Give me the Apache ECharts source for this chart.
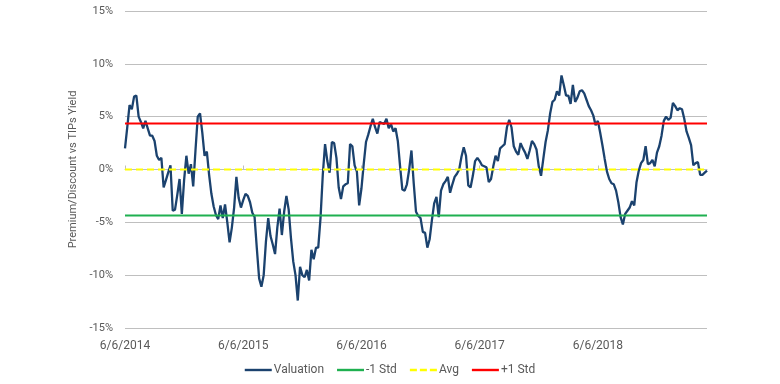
<!DOCTYPE html>
<html>
<head>
<meta charset="utf-8">
<script src="https://cdn.jsdelivr.net/npm/echarts@6/dist/echarts.min.js"></script>
<style>
html,body{margin:0;padding:0;background:#fff;}
#chart{width:780px;height:384px;}
</style>
</head>
<body>
<div id="chart"></div>
<script>
// Weekly observations starting 6/6/2014
const startDate = "2014-06-06";
const tickLabels = ["6/6/2014", "6/6/2015", "6/6/2016", "6/6/2017", "6/6/2018"];
const yTicks = [-15, -10, -5, 0, 5, 10, 15];

const valuation = [
  2.0, 4.0, 6.1, 5.7, 6.9, 7.0, 5.0, 4.5, 3.9, 4.6,
  3.9, 3.2, 3.2, 2.7, 1.3, 0.9, 1.1, -1.7, -1.0, -0.3,
  0.4, -3.9, -3.8, -2.4, -0.9, -4.2, -1.0, 1.3, -0.4, 0.5,
  -1.6, 1.8, 5.0, 5.3, 3.5, 1.3, 1.7, -0.5, -2.3, -3.5,
  -4.3, -4.7, -3.4, -4.6, -3.3, -5.0, -6.9, -5.5, -3.6, -0.7,
  -2.7, -3.6, -2.9, -2.3, -2.5, -3.1, -4.1, -4.5, -7.5, -10.3,
  -11.1, -10.0, -6.8, -4.6, -6.3, -7.1, -8.0, -5.5, -3.7, -6.2,
  -4.0, -2.5, -3.8, -6.5, -8.7, -10.0, -12.4, -9.2, -10.0, -10.2,
  -9.5, -10.5, -7.6, -8.5, -7.4, -7.4, -4.6, -0.5, 2.4, 0.8,
  -0.3, 2.6, 2.5, 1.1, -1.7, -2.8, -1.6, -1.4, -1.3, 2.4,
  2.2, 0.4, -0.2, -3.4, -1.8, 0.5, 2.6, 3.3, 4.1, 4.8,
  4.0, 3.4, 4.5, 4.4, 4.3, 4.8, 3.9, 4.3, 3.6, 3.9,
  2.7, 0.3, -1.9, -2.0, -1.4, 0.0, 1.8, -1.3, -4.0, -4.4,
  -4.6, -5.9, -6.0, -7.4, -6.6, -4.8, -3.2, -2.6, -4.5, -2.0,
  -1.4, -1.1, -0.7, -2.2, -1.4, -0.7, -0.4, 0.0, 1.2, 2.1,
  1.3, -1.5, -1.7, -0.6, 0.8, 1.1, 0.8, 0.4, 0.3, 0.2,
  -1.2, -0.9, 0.3, 1.3, 0.8, 2.0, 2.2, 2.4, 4.0, 4.7,
  4.0, 2.2, 1.7, 1.4, 2.5, 2.0, 1.6, 1.0, 1.8, 2.7,
  2.4, 1.9, 0.3, -0.6, 1.0, 2.6, 3.7, 5.3, 6.4, 6.6,
  7.4, 7.0, 8.9, 8.0, 7.0, 7.0, 6.2, 8.0, 6.4, 6.8,
  7.4, 7.5, 7.2, 6.6, 6.0, 5.6, 5.1, 4.2, 4.6, 3.5,
  2.3, 1.0, -0.2, -0.9, -1.3, -1.4, -2.0, -3.1, -4.5, -5.2,
  -4.2, -3.9, -3.6, -3.0, -3.4, -1.2, -0.1, 0.6, 0.9, 2.2,
  0.5, 0.6, 0.9, 0.3, 1.6, 2.2, 3.2, 4.6, 5.0, 4.7,
  4.9, 6.3, 6.0, 5.6, 5.8, 5.7, 4.8, 3.6, 3.0, 2.3,
  0.4, 0.6, 0.7, -0.5, -0.5, -0.3, -0.1
];

const minusStdValue = -4.36;
const avgValue = 0.0;
const plusStdValue = 4.36;

// categories: weekly dates
const categories = valuation.map(function (_, i) {
  const d = new Date(startDate + "T00:00:00Z");
  d.setUTCDate(d.getUTCDate() + 7 * i);
  return (d.getUTCMonth() + 1) + "/" + d.getUTCDate() + "/" + d.getUTCFullYear();
});
const minusStd = valuation.map(function () { return minusStdValue; });
const avg = valuation.map(function () { return avgValue; });
const plusStd = valuation.map(function () { return plusStdValue; });

const FONT = "Roboto";
const TXT = "#595959";
const labelEvery = function (idx) { return idx % 52 === 0; };
const solidIcon = "path://M0,0h27v2.4h-27z";
const dashIcon = "path://M0,0h7v2.4h-7z M10,0h7v2.4h-7z M20,0h7v2.4h-7z";

const chart = echarts.init(document.getElementById("chart"), null, { renderer: "canvas" });
chart.setOption({
  animation: false,
  backgroundColor: "#ffffff",
  textStyle: { fontFamily: FONT },
  grid: { left: 125, right: 73, top: 11, bottom: 56, containLabel: false },
  legend: {
    bottom: 3,
    left: "center",
    itemWidth: 27,
    itemHeight: 2.4,
    itemGap: 13,
    textStyle: { color: TXT, fontSize: 12, fontFamily: FONT, padding: [0, 0, 0, -3] },
    data: [
      { name: "Valuation", icon: solidIcon },
      { name: "-1 Std", icon: solidIcon },
      { name: "Avg", icon: dashIcon },
      { name: "+1 Std", icon: solidIcon }
    ]
  },
  xAxis: [
    {
      type: "category",
      data: categories,
      boundaryGap: false,
      axisLine: { show: false, onZero: false },
      axisTick: { show: false },
      splitLine: { show: false },
      axisLabel: {
        interval: labelEvery,
        formatter: function (v, idx) { return tickLabels[Math.round(idx / 52)]; },
        color: TXT,
        fontSize: 12,
        fontFamily: FONT,
        margin: 12
      }
    },
    {
      type: "category",
      data: categories,
      boundaryGap: false,
      axisLine: { show: true, onZero: true, onZeroAxisIndex: 0, lineStyle: { color: "#BFBFBF", width: 1 } },
      axisTick: { show: true, interval: labelEvery, length: 4, lineStyle: { color: "#BFBFBF" } },
      axisLabel: { show: false },
      splitLine: { show: false }
    }
  ],
  yAxis: {
    type: "value",
    min: yTicks[0],
    max: yTicks[yTicks.length - 1],
    interval: 5,
    name: "Premium/Discount vs TIPs Yield",
    nameLocation: "middle",
    nameGap: 43,
    nameRotate: 90,
    nameTextStyle: { color: TXT, fontSize: 11, fontFamily: FONT },
    axisLine: { show: false },
    axisTick: { show: false },
    axisLabel: { formatter: "{value}%", color: TXT, fontSize: 11, fontFamily: FONT, margin: 12 },
    splitLine: { lineStyle: { color: "#BFBFBF", width: 1 } }
  },
  series: [
    {
      name: "Valuation",
      type: "line",
      data: valuation,
      xAxisIndex: 0,
      symbol: "none",
      lineStyle: { color: "#1B426E", width: 2.3 },
      itemStyle: { color: "#1B426E" },
      z: 2
    },
    {
      name: "-1 Std",
      type: "line",
      data: minusStd,
      xAxisIndex: 0,
      symbol: "none",
      lineStyle: { color: "#1FB050", width: 2 },
      itemStyle: { color: "#1FB050" },
      z: 3
    },
    {
      name: "Avg",
      type: "line",
      data: avg,
      xAxisIndex: 0,
      symbol: "none",
      lineStyle: { color: "#FFFF00", width: 2, type: [7, 4] },
      itemStyle: { color: "#FFFF00" },
      z: 3
    },
    {
      name: "+1 Std",
      type: "line",
      data: plusStd,
      xAxisIndex: 0,
      symbol: "none",
      lineStyle: { color: "#FF0000", width: 2 },
      itemStyle: { color: "#FF0000" },
      z: 3
    }
  ]
});
</script>
</body>
</html>
